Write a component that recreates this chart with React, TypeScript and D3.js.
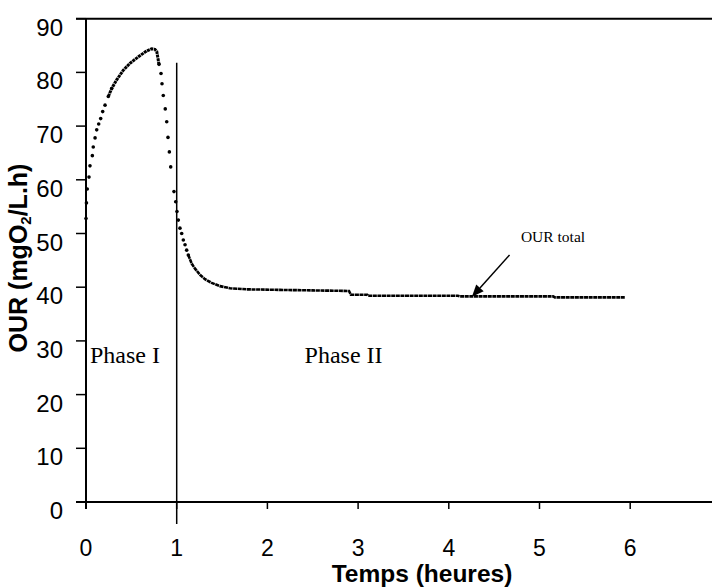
import React from "react";
import * as d3 from "d3";

const W = 712;
const H = 587;

const xTicks = [0, 1, 2, 3, 4, 5, 6];
const yTicks = [0, 10, 20, 30, 40, 50, 60, 70, 80, 90];

// sparse dots (t in hours, OUR in mgO2/L.h)
const sparseT = [0.0, 0.005, 0.014, 0.033, 0.044, 0.07, 0.08, 0.1, 0.118, 0.14, 0.162, 0.184, 0.21, 0.246, 0.283,
  0.805, 0.827, 0.838, 0.852, 0.874, 0.89, 0.904, 0.919, 0.934, 0.97, 0.989, 1.003, 1.018, 1.036, 1.055, 1.073, 1.092, 1.11, 1.128];
const sparseV = [52.8, 55.7, 58.3, 60.5, 62.6, 64.5, 66.1, 67.8, 69.3, 70.4, 71.4, 72.7, 73.9, 75.5, 77.0,
  81.5, 79.8, 77.9, 75.7, 73.2, 70.8, 67.9, 65.2, 62.4, 57.8, 55.9, 54.1, 52.5, 51.0, 50.0, 48.8, 47.9, 46.9, 46.0];

// dense part near the peak
const peakT = [0.246, 0.283, 0.338, 0.411, 0.485, 0.577, 0.669, 0.724, 0.76, 0.78, 0.805];
const peakV = [75.5, 77.0, 78.6, 80.4, 81.7, 82.9, 84.0, 84.4, 84.3, 83.9, 81.5];

// dense decay and plateau
const tailT = [1.128, 1.165, 1.2, 1.257, 1.312, 1.386, 1.477, 1.588, 1.772, 2.139, 2.5, 2.9, 2.92, 3.1, 3.11, 4.1, 4.12, 5.15, 5.17, 5.94];
const tailV = [46.0, 44.4, 43.5, 42.3, 41.5, 40.8, 40.2, 39.8, 39.6, 39.5, 39.4, 39.3, 38.6, 38.6, 38.4, 38.4, 38.3, 38.3, 38.1, 38.1];

const phaseLineT = 1;
const phaseLineTop = 81.8;
const phaseLineBottom = -4.1;

export default function App() {
  const x = d3.scaleLinear().domain([0, 7]).range([86, 86 + 7 * 90.7]);
  const y = d3.scaleLinear().domain([0, 90]).range([502, 18.7]);

  const line = d3.line<[number, number]>().x((d) => x(d[0])).y((d) => y(d[1]));
  const peakPts = peakT.map((t, i) => [t, peakV[i]] as [number, number]);
  const tailPts = tailT.map((t, i) => [t, tailV[i]] as [number, number]);

  const arrowFrom: [number, number] = [4.67, 46.0];
  const arrowTo: [number, number] = [4.255, 38.2];
  const ax0 = x(arrowFrom[0]), ay0 = y(arrowFrom[1]);
  const ax1 = x(arrowTo[0]), ay1 = y(arrowTo[1]);
  const ang = Math.atan2(ay1 - ay0, ax1 - ax0);
  const hl = 12, hw = 5;
  const bx = ax1 - hl * Math.cos(ang), by = ay1 - hl * Math.sin(ang);
  const head = `M${ax1},${ay1}L${bx + hw * Math.sin(ang)},${by - hw * Math.cos(ang)}L${bx - hw * Math.sin(ang)},${by + hw * Math.cos(ang)}Z`;

  return (
    <svg width={W} height={H} style={{ position: "absolute", left: 0, top: 0, background: "#fff" }}
      fontFamily="Liberation Sans, Arial, sans-serif">
      {/* top border */}
      <line x1={76} x2={W} y1={y(90)} y2={y(90)} stroke="#000" strokeWidth={2} />
      {/* x axis */}
      <line x1={76} x2={W} y1={y(0)} y2={y(0)} stroke="#000" strokeWidth={2} />
      {/* y axis */}
      <line x1={x(0)} x2={x(0)} y1={y(90)} y2={y(0) + 7} stroke="#000" strokeWidth={2} />
      {yTicks.map((v) => (
        <g key={"y" + v}>
          <line x1={76} x2={x(0)} y1={y(v)} y2={y(v)} stroke="#000" strokeWidth={1.5} />
          <text x={63} y={y(v) + 17} textAnchor="end" fontSize={24}>{v}</text>
        </g>
      ))}
      {xTicks.map((t) => (
        <g key={"x" + t}>
          <line x1={x(t)} x2={x(t)} y1={y(0)} y2={y(0) + 7} stroke="#000" strokeWidth={1.5} />
          <text x={x(t)} y={556} textAnchor="middle" fontSize={23}>{t}</text>
        </g>
      ))}
      <text x={422} y={582} textAnchor="middle" fontSize={24.5} fontWeight="bold">Temps (heures)</text>
      <text transform="translate(27,258) rotate(-90)" textAnchor="middle" fontSize={25} fontWeight="bold">
        OUR (mgO<tspan fontSize={15} dy={4}>2</tspan><tspan dy={-4}>/L.h)</tspan>
      </text>

      {/* phase separator */}
      <line x1={x(phaseLineT)} x2={x(phaseLineT)} y1={y(phaseLineTop)} y2={y(phaseLineBottom)} stroke="#000" strokeWidth={1.5} />

      {/* data */}
      <path d={line(peakPts) || ""} fill="none" stroke="#000" strokeWidth={3} strokeDasharray="3 0.6" />
      <path d={line(tailPts) || ""} fill="none" stroke="#000" strokeWidth={2.6} strokeDasharray="4 0.6" />
      {sparseT.map((t, i) => (
        <circle key={"p" + i} cx={x(t)} cy={y(sparseV[i])} r={1.8} fill="#000" />
      ))}

      <text x={x(0.044)} y={363} fontFamily="Liberation Serif, Times New Roman, serif" fontSize={24}>Phase I</text>
      <text x={x(2.41)} y={363} fontFamily="Liberation Serif, Times New Roman, serif" fontSize={24}>Phase II</text>
      <text x={553} y={242} textAnchor="middle" fontFamily="Liberation Serif, Times New Roman, serif" fontSize={15.5}>OUR total</text>
      <line x1={ax0} y1={ay0} x2={bx} y2={by} stroke="#000" strokeWidth={1.5} />
      <path d={head} fill="#000" />
    </svg>
  );
}
